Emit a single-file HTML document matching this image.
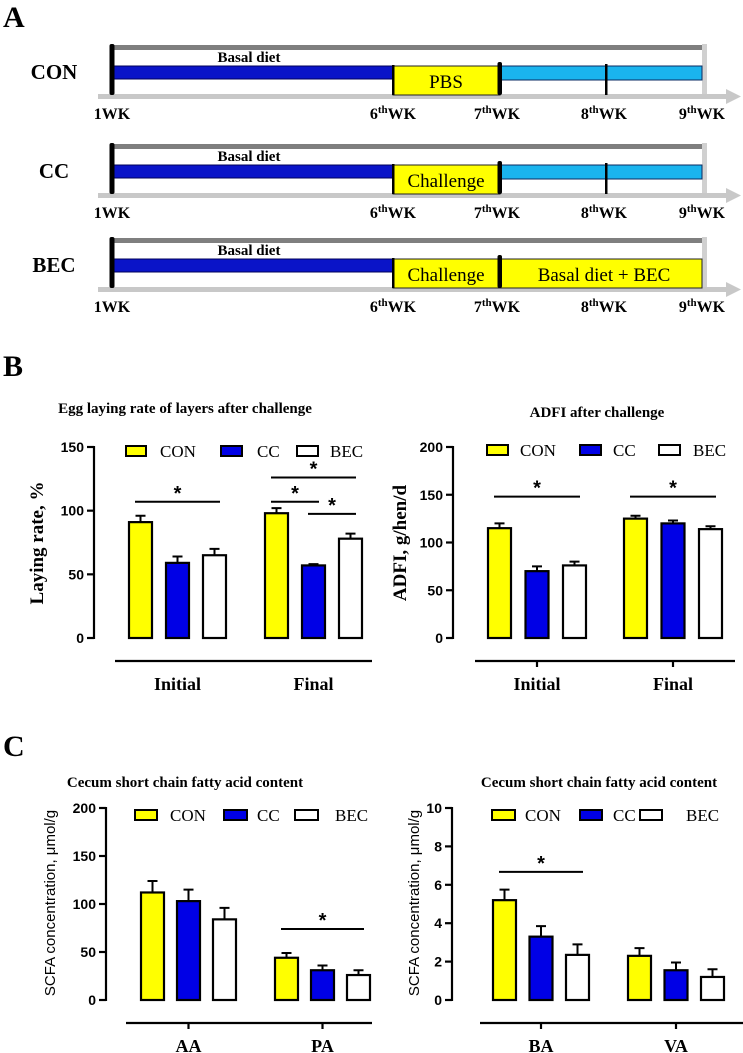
<!DOCTYPE html>
<html><head><meta charset="utf-8">
<style>
html,body{margin:0;padding:0;background:#fff;}
svg{display:block;}
.tnr{font-family:"Liberation Serif",serif;}
.ar{font-family:"Liberation Sans",sans-serif;}
</style></head>
<body>
<svg id="fig" width="743" height="1053" viewBox="0 0 743 1053" xmlns="http://www.w3.org/2000/svg">
<g id="panelA"></g>
<g id="charts"></g>
</svg>
<script>
// ---------- Data ----------
const groups = ["CON", "CC", "BEC"];
const layCats = ["Initial", "Final"];
const layMeans = [[91, 59, 65], [98, 57, 78]];
const layErr = [[5, 5, 5], [4, 1, 4]];
const layTicks = [0, 50, 100, 150];
const adfiCats = ["Initial", "Final"];
const adfiMeans = [[115, 70, 76], [125, 120, 114]];
const adfiErr = [[5, 5, 4], [3, 3, 3]];
const adfiTicks = [0, 50, 100, 150, 200];
const scfa1Cats = ["AA", "PA"];
const scfa1Means = [[112, 103, 84], [44, 31, 26]];
const scfa1Err = [[12, 12, 12], [5, 5, 5]];
const scfa1Ticks = [0, 50, 100, 150, 200];
const scfa2Cats = ["BA", "VA"];
const scfa2Means = [[5.2, 3.3, 2.35], [2.3, 1.55, 1.2]];
const scfa2Err = [[0.55, 0.55, 0.55], [0.4, 0.4, 0.4]];
const scfa2Ticks = [0, 2, 4, 6, 8, 10];
// significance: [category, fromBar, toBar, value]
const laySig = [[0, 0, 2, 107], [1, 0, 2, 126], [1, 0, 1, 107], [1, 1, 2, 97.5]];
const adfiSig = [[0, 0, 2, 148], [1, 0, 2, 148]];
const scfa1Sig = [[1, 0, 2, 74]];
const scfa2Sig = [[0, 0, 2, 6.67]];

const NS = "http://www.w3.org/2000/svg";
function mk(parent, tag, attrs, text) {
  const e = document.createElementNS(NS, tag);
  for (const k in attrs) e.setAttribute(k, attrs[k]);
  if (text !== undefined) e.textContent = text;
  parent.appendChild(e);
  return e;
}
const fills = ["#ffff00", "#0000e6", "#ffffff"];

// ---------- Panel letters ----------
const fig = document.getElementById("fig");
[["A", 3, 27], ["B", 3, 376], ["C", 3, 756]].forEach(p => {
  const t = mk(fig, "text", {x: p[1], y: p[2], class: "tnr", "font-size": "30", "font-weight": "bold"}, p[0]);
  
  
});

// ---------- Panel A ----------
const A = document.getElementById("panelA");
const rows = [["CON", 47, "con"], ["CC", 146, "cc"], ["BEC", 240, "bec"]];
rows.forEach(r => {
  const T = r[1];
  const g = mk(A, "g", {});
  
  
  mk(g, "text", {x: 54, y: T + 32, "text-anchor": "middle", class: "tnr", "font-size": "21", "font-weight": "bold"}, r[0]);
  mk(g, "rect", {x: 114, y: T - 2, width: 588, height: 5, fill: "#7f7f7f"});
  mk(g, "rect", {x: 702, y: T - 3, width: 5, height: 53, fill: "#d0d0d0"});
  // arrow
  mk(g, "rect", {x: 98, y: T + 47, width: 630, height: 5, fill: "#c8c8c8"});
  mk(g, "polygon", {points: `${726},${T+42} ${741},${T+49.5} ${726},${T+57}`, fill: "#c8c8c8"});
  // blue
  mk(g, "rect", {x: 114, y: T + 19, width: 279, height: 13, fill: "#0a14c8", stroke: "#00005a", "stroke-width": 1});
  mk(g, "text", {x: 249, y: T + 15, "text-anchor": "middle", class: "tnr", "font-size": "15", "font-weight": "bold"}, "Basal diet");
  // yellow challenge/PBS
  mk(g, "rect", {x: 393, y: T + 19, width: 107, height: 29, fill: "#ffff00", stroke: "#222", "stroke-width": 1});
  mk(g, "text", {x: 446, y: T + 41, "text-anchor": "middle", class: "tnr", "font-size": "19"}, r[0] === "CON" ? "PBS" : "Challenge");
  if (r[0] === "BEC") {
    mk(g, "rect", {x: 501, y: T + 19, width: 201, height: 29, fill: "#ffff00", stroke: "#222", "stroke-width": 1});
    mk(g, "text", {x: 604, y: T + 41, "text-anchor": "middle", class: "tnr", "font-size": "19"}, "Basal diet + BEC");
  } else {
    mk(g, "rect", {x: 501, y: T + 19, width: 201, height: 14, fill: "#1ab4ee", stroke: "#0a2a60", "stroke-width": 1});
    mk(g, "rect", {x: 605, y: T + 17, width: 2.5, height: 31, fill: "#000"});
  }
  mk(g, "rect", {x: 109.5, y: T - 3, width: 5, height: 51, rx: 2, fill: "#000"});
  mk(g, "rect", {x: 392, y: T + 18, width: 2.5, height: 30, fill: "#000"});
  mk(g, "rect", {x: 497.5, y: T + 15, width: 4.5, height: 33, rx: 2, fill: "#000"});
  // labels
  const lab = [[112, "1", false], [393, "6", true], [497, "7", true], [604, "8", true], [702, "9", true]];
  lab.forEach(l => {
    const t = mk(g, "text", {x: l[0], y: T + 72, "text-anchor": "middle", class: "tnr", "font-size": "16", "font-weight": "bold"});
    t.appendChild(document.createTextNode(l[1]));
    if (l[2]) mk(t, "tspan", {"font-size": "11", dy: "-6"}, "th");
    mk(t, "tspan", {dy: l[2] ? "6" : "0"}, "WK");
  });
});

// ---------- Bar charts ----------
const C = document.getElementById("charts");
function chart(cfg) {
  const g = mk(C, "g", {});
  
  
  const yMax = cfg.ticks[cfg.ticks.length - 1];
  const ys = v => cfg.y0 - v / yMax * (cfg.y0 - cfg.yTop);
  const xs = (c, i) => cfg.x0 + c * cfg.gStep + i * cfg.bStep;
  // title
  const tt = mk(g, "text", {x: cfg.tx, y: cfg.ty, "text-anchor": "middle", class: "tnr", "font-size": "15", "font-weight": "bold"}, cfg.title);
  
  
  // y axis
  mk(g, "line", {x1: cfg.ax, y1: cfg.yTop - 1, x2: cfg.ax, y2: cfg.y0 + 1, stroke: "#000", "stroke-width": 2.2});
  cfg.ticks.forEach(t => {
    mk(g, "line", {x1: cfg.ax - 7, y1: ys(t), x2: cfg.ax, y2: ys(t), stroke: "#000", "stroke-width": 2.2});
    const tl = mk(g, "text", {x: cfg.ax - 10, y: ys(t) + 5, "text-anchor": "end", class: "ar", "font-size": "14", "font-weight": "bold"}, String(t));
    
    
  });
  const yt = mk(g, "text", {x: 0, y: 0, "text-anchor": "middle", class: cfg.ytClass, "font-size": cfg.ytSize, "font-weight": cfg.ytWeight,
    transform: `translate(${cfg.ytx},${cfg.yty}) rotate(-90)`}, cfg.ytitle);
  
  
  // x axis
  mk(g, "line", {x1: cfg.xl1, y1: cfg.xay, x2: cfg.xl2, y2: cfg.xay, stroke: "#000", "stroke-width": 2.2});
  cfg.cats.forEach((c, ci) => {
    const cx = xs(ci, 1) + cfg.bw / 2;
    if (cfg.xTicks) mk(g, "line", {x1: cx, y1: cfg.xay, x2: cx, y2: cfg.xay + 6, stroke: "#000", "stroke-width": 2.2});
    const cl = mk(g, "text", {x: cx, y: cfg.xay + 29, "text-anchor": "middle", class: "tnr", "font-size": "18", "font-weight": "bold"}, c);
    
    
    cfg.means[ci].forEach((m, i) => {
      const x = xs(ci, i), top = ys(m), et = ys(m + cfg.err[ci][i]);
      const cx2 = x + cfg.bw / 2;
      const eb = mk(g, "path", {d: `M${cx2},${top} V${et} M${cx2 - 5},${et} H${cx2 + 5}`, stroke: "#000", "stroke-width": 2, fill: "none"});
      
      
      const b = mk(g, "rect", {x: x, y: top, width: cfg.bw, height: cfg.y0 - top, fill: fills[i], stroke: "#000", "stroke-width": 2.2});
      
      
    });
  });
  // significance
  cfg.sig.forEach(s => {
    const x1 = xs(s[0], s[1]) + 6, x2 = xs(s[0], s[2]) + cfg.bw - 6, y = ys(s[3]);
    const sl = mk(g, "line", {x1: x1, y1: y, x2: x2, y2: y, stroke: "#000", "stroke-width": 2});
    
    
    const st = mk(g, "text", {x: (x1 + x2) / 2, y: y - 2, "text-anchor": "middle", class: "ar", "font-size": "20", "font-weight": "bold"}, "*");
    
    
  });
  // legend
  cfg.leg.forEach((lx, i) => {
    const lg = mk(g, "g", {});
    
    
    mk(lg, "rect", {x: lx[0], y: cfg.ly - 5, width: lx[1], height: 10, fill: fills[i], stroke: "#000", "stroke-width": 2});
    mk(lg, "text", {x: lx[2], y: cfg.ly + 6, class: "tnr", "font-size": "17"}, groups[i]);
  });
}

chart({name: "chart-laying-rate", title: "Egg laying rate of layers after challenge", tx: 185, ty: 413,
  cats: layCats, means: layMeans, err: layErr, ticks: layTicks, sig: laySig,
  ax: 94, y0: 638, yTop: 447, x0: 129, gStep: 136, bStep: 37, bw: 23,
  ytitle: "Laying rate, %", ytx: 43, yty: 543, ytClass: "tnr", ytSize: 19, ytWeight: "bold",
  xl1: 115, xl2: 372, xay: 661, xTicks: false, ly: 451,
  leg: [[126, 20, 160], [221, 21, 257], [297, 21, 330]]});

chart({name: "chart-adfi", title: "ADFI after challenge", tx: 597, ty: 417,
  cats: adfiCats, means: adfiMeans, err: adfiErr, ticks: adfiTicks, sig: adfiSig,
  ax: 453, y0: 638, yTop: 447, x0: 488, gStep: 136, bStep: 37.5, bw: 23,
  ytitle: "ADFI, g/hen/d", ytx: 406, yty: 543, ytClass: "tnr", ytSize: 19, ytWeight: "bold",
  xl1: 475, xl2: 735, xay: 661, xTicks: true, ly: 450,
  leg: [[487, 21, 520], [580, 21, 613], [659, 21, 693]]});

chart({name: "chart-scfa-aa-pa", title: "Cecum short chain fatty acid content", tx: 185, ty: 787,
  cats: scfa1Cats, means: scfa1Means, err: scfa1Err, ticks: scfa1Ticks, sig: scfa1Sig,
  ax: 106, y0: 1000, yTop: 808, x0: 141, gStep: 134, bStep: 36, bw: 23,
  ytitle: "SCFA concentration, μmol/g", ytx: 55, yty: 903, ytClass: "ar", ytSize: 15, ytWeight: "normal",
  xl1: 126, xl2: 372, xay: 1023, xTicks: true, ly: 815,
  leg: [[135, 22, 170], [224, 23, 257], [295, 23, 335]]});

chart({name: "chart-scfa-ba-va", title: "Cecum short chain fatty acid content", tx: 599, ty: 787,
  cats: scfa2Cats, means: scfa2Means, err: scfa2Err, ticks: scfa2Ticks, sig: scfa2Sig,
  ax: 452, y0: 1000, yTop: 808, x0: 493, gStep: 135, bStep: 36.5, bw: 23,
  ytitle: "SCFA concentration, μmol/g", ytx: 419, yty: 903, ytClass: "ar", ytSize: 15, ytWeight: "normal",
  xl1: 480, xl2: 743, xay: 1023, xTicks: true, ly: 815,
  leg: [[492, 23, 525], [580, 22, 613], [640, 22, 686]]});
</script>
</body></html>
